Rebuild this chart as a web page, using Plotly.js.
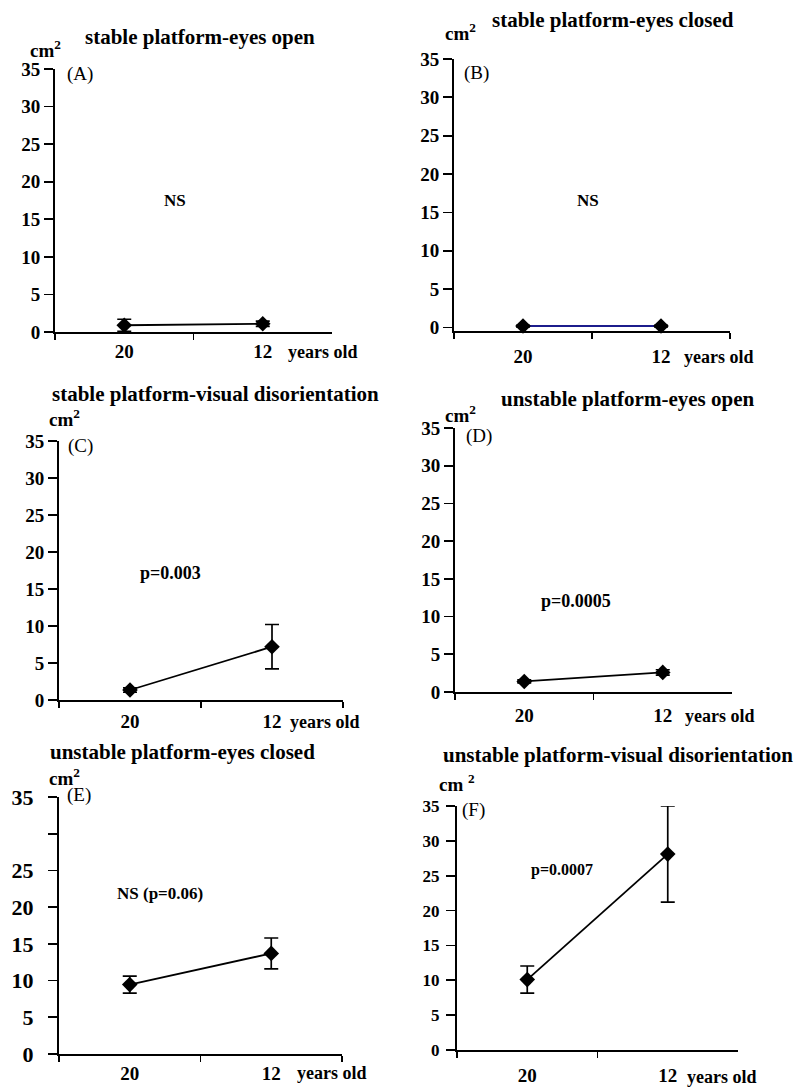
<!DOCTYPE html>
<html>
<head>
<meta charset="utf-8">
<script src="https://cdn.plot.ly/plotly-3.0.1.min.js"></script>
<style>html,body{margin:0;padding:0;background:#fff;}#chart{width:798px;height:1087px;}</style>
</head>
<body>
<div id="chart"></div>
<script>
// ---- data ----
const categories = ['20', '12'];
const unitLabel = 'years old';
const yUnit = 'cm<sup>2</sup>';
const panelTitles = [
  'stable platform-eyes open',
  'stable platform-eyes closed',
  'stable platform-visual disorientation',
  'unstable platform-eyes open',
  'unstable platform-eyes closed',
  'unstable platform-visual disorientation'
];
const panelLetters = ['(A)', '(B)', '(C)', '(D)', '(E)', '(F)'];
const statLabels = ['NS', 'NS', 'p=0.003', 'p=0.0005', 'NS (p=0.06)', 'p=0.0007'];

const meanA = [0.9, 1.1];   const errA = [0.8, 0.35];
const meanB = [0.2, 0.2];   const errB = [0.1, 0.1];
const meanC = [1.35, 7.2];  const errC = [0.3, 3.0];
const meanD = [1.4, 2.6];   const errD = [0.2, 0.35];
const meanE = [9.45, 13.7]; const errE = [1.15, 2.1];
const meanF = [10.1, 28.1]; const errF = [1.95, 6.9];

const yTickVals = [0, 5, 10, 15, 20, 25, 30, 35];
const yTickText = ['0', '5', '10', '15', '20', '25', '30', '35'];
const yTickTextE = ['0', '5', '10', '15', '20', '25', '', '35'];

// ---- layout helpers ----
const W = 798, H = 1087;
const FONT = 'Liberation Serif';
const px = v => v / W;
const py = v => 1 - v / H;

// pixel boxes: x0,x1 (axis span), yTop (35), yBot (0)
const boxes = [
  {x0: 55,  x1: 332, yTop: 69,  yBot: 332,  ymin: 0},
  {x0: 454, x1: 730, yTop: 59,  yBot: 331,  ymin: -0.45},
  {x0: 59,  x1: 343, yTop: 441, yBot: 700,  ymin: 0},
  {x0: 455, x1: 732, yTop: 428, yBot: 692,  ymin: 0},
  {x0: 59,  x1: 342, yTop: 797, yBot: 1054, ymin: 0},
  {x0: 457, x1: 738, yTop: 806, yBot: 1050, ymin: 0}
];
const means = [meanA, meanB, meanC, meanD, meanE, meanF];
const errs = [errA, errB, errC, errD, errE, errF];
const lineColors = ['#000', '#1c1c8c', '#000', '#000', '#000', '#000'];
const yTickSize = [19, 19, 19, 19, 22, 17];
const yStandoff = [0, 0, 0, 0, 10, 3];
const xStandoff = [1, 7, 3, 5, 1, 7];

const titlePos = [[200, 37], [613, 20], [215, 394], [627, 399], [182, 752], [618, 755]];
const unitPos = [[45, 49], [460, 32], [64, 418], [460, 414], [64, 777], [457, 783]];
const letterPos = [[65, 74], [462, 73], [66, 446], [464, 436], [65, 795], [460, 810]];
const statPos = [[175, 201], [588, 201], [170, 573], [576, 601], [160, 893], [562, 870]];
const statSize = [17, 17, 18, 18, 17, 16];
const yearsPos = [[286, 352], [682, 357], [288, 722], [683, 716], [295, 1073], [685, 1077]];

const traces = [];
const layout = {
  width: W, height: H,
  margin: {l: 0, r: 0, t: 0, b: 0},
  paper_bgcolor: '#fff', plot_bgcolor: '#fff',
  showlegend: false,
  font: {family: FONT, color: '#000'},
  annotations: []
};

boxes.forEach((b, i) => {
  const n = i === 0 ? '' : String(i + 1);
  traces.push({
    type: 'scatter', mode: 'lines+markers',
    x: categories, y: means[i],
    xaxis: 'x' + n, yaxis: 'y' + n,
    line: {color: lineColors[i], width: i === 1 ? 2 : 1.8},
    marker: {symbol: 'diamond', size: 12, color: '#000'},
    error_y: {type: 'data', array: errs[i], visible: true, color: '#000', thickness: 1.7, width: 7},
    cliponaxis: false
  });
  layout['xaxis' + n] = {
    domain: [px(b.x0), px(b.x1)], anchor: 'y' + n,
    type: 'category', range: [-0.5, 1.5], tickson: 'boundaries',
    ticks: 'outside', ticklen: 6, tickwidth: 1.8, tickcolor: '#000',
    showline: true, linecolor: '#000', linewidth: 2,
    showgrid: false, zeroline: false, fixedrange: true,
    tickfont: {family: FONT, size: 19, color: '#000', weight: 'bold'},
    ticklabelstandoff: xStandoff[i]
  };
  layout['yaxis' + n] = {
    domain: [py(b.yBot), py(b.yTop)], anchor: 'x' + n,
    range: [b.ymin, 35],
    tickmode: 'array', tickvals: yTickVals, ticktext: i === 4 ? yTickTextE : yTickText,
    ticks: 'outside', ticklen: 9, tickwidth: 1.8, tickcolor: '#000',
    showline: true, linecolor: '#000', linewidth: 2,
    showgrid: false, zeroline: false, fixedrange: true,
    tickfont: {family: FONT, size: yTickSize[i], color: '#000', weight: 'bold'},
    ticklabelstandoff: yStandoff[i]
  };
  const A = layout.annotations;
  A.push({xref: 'paper', yref: 'paper', x: px(titlePos[i][0]), y: py(titlePos[i][1]),
    xanchor: 'center', yanchor: 'middle', showarrow: false, text: '<b>' + panelTitles[i] + '</b>',
    font: {family: FONT, size: 21, color: '#000'}});
  A.push({xref: 'paper', yref: 'paper', x: px(unitPos[i][0]), y: py(unitPos[i][1]),
    xanchor: 'center', yanchor: 'middle', showarrow: false, text: '<b>' + (i === 5 ? 'cm <sup>2</sup>' : yUnit) + '</b>',
    font: {family: FONT, size: 19, color: '#000'}});
  A.push({xref: 'paper', yref: 'paper', x: px(letterPos[i][0]), y: py(letterPos[i][1]),
    xanchor: 'left', yanchor: 'middle', showarrow: false, text: panelLetters[i],
    font: {family: FONT, size: 19, color: '#000'}});
  A.push({xref: 'paper', yref: 'paper', x: px(statPos[i][0]), y: py(statPos[i][1]),
    xanchor: 'center', yanchor: 'middle', showarrow: false, text: '<b>' + statLabels[i] + '</b>',
    font: {family: FONT, size: statSize[i], color: '#000'}});
  A.push({xref: 'paper', yref: 'paper', x: px(yearsPos[i][0]), y: py(yearsPos[i][1]),
    xanchor: 'left', yanchor: 'middle', showarrow: false, text: '<b>' + unitLabel + '</b>',
    font: {family: FONT, size: 18, color: '#000'}});
});

Plotly.newPlot('chart', traces, layout, {displayModeBar: false, staticPlot: true});
</script>
</body>
</html>
